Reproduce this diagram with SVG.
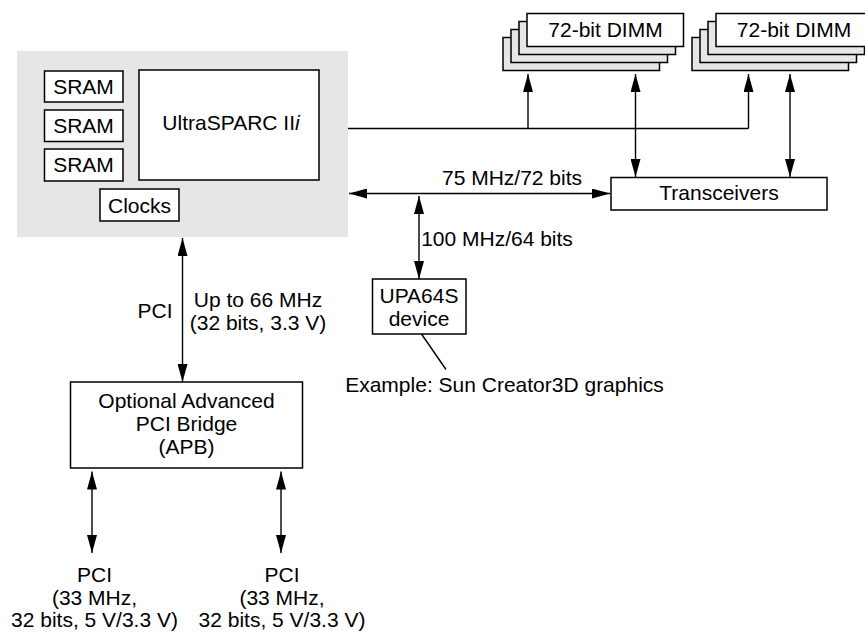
<svg xmlns="http://www.w3.org/2000/svg" width="865" height="634" viewBox="0 0 865 634">
<defs>
<marker id="ah" markerUnits="userSpaceOnUse" markerWidth="18" markerHeight="10" viewBox="0 0 18 10" refX="18" refY="5" orient="auto-start-reverse">
<path d="M0,0 L18,5 L0,10 z" fill="#000"/>
</marker>
<style>
text{font-family:"Liberation Sans",Arial,sans-serif;font-size:21px;fill:#000;text-anchor:middle}
.box{fill:#fff;stroke:#000;stroke-width:1.5}
.gbox{fill:#e6e6e6;stroke:#000;stroke-width:1.5}
.ln{fill:none;stroke:#000;stroke-width:1.4}
.arr{fill:none;stroke:#000;stroke-width:1.4;marker-end:url(#ah)}
.darr{fill:none;stroke:#000;stroke-width:1.4;marker-start:url(#ah);marker-end:url(#ah)}
</style>
</defs>
<rect width="865" height="634" fill="#fff"/>
<g id="cpu-module">
<rect x="17" y="51" width="331" height="186" fill="#e6e6e6"/>
</g>
<g id="sram1"><rect class="box" x="44.5" y="71" width="78.5" height="31"/><text x="83.5" y="94">SRAM</text></g>
<g id="sram2"><rect class="box" x="44.5" y="110" width="78.5" height="31.5"/><text x="83.5" y="133">SRAM</text></g>
<g id="sram3"><rect class="box" x="44.5" y="149" width="78.5" height="32"/><text x="83.5" y="172">SRAM</text></g>
<g id="ultrasparc"><rect class="box" x="139" y="70" width="180" height="110"/><text x="231" y="130">UltraSPARC II<tspan font-style="italic">i</tspan></text></g>
<g id="clocks"><rect class="box" x="100" y="189" width="79" height="32"/><text x="139.5" y="213">Clocks</text></g>
<g id="dimm1">
<rect class="gbox" x="503" y="37.5" width="156.5" height="33"/>
<rect class="gbox" x="511" y="29.5" width="156.5" height="33"/>
<rect class="gbox" x="519" y="21.5" width="156.5" height="33"/>
<rect class="box" x="527" y="13.5" width="156.5" height="33"/>
<text x="605.5" y="37">72-bit DIMM</text>
</g>
<g id="dimm2">
<rect class="gbox" x="692" y="37.5" width="156.5" height="33"/>
<rect class="gbox" x="700" y="29.5" width="156.5" height="33"/>
<rect class="gbox" x="708" y="21.5" width="156.5" height="33"/>
<rect class="box" x="716" y="13.5" width="156.5" height="33"/>
<text x="794" y="37">72-bit DIMM</text>
</g>
<g id="transceivers"><rect class="box" x="611" y="177.5" width="216" height="32.5"/><text x="719" y="200">Transceivers</text></g>
<g id="upa64s"><rect class="box" x="372.5" y="279" width="93.5" height="55"/><text x="419" y="303">UPA64S</text><text x="419" y="326">device</text></g>
<g id="apb"><rect class="box" x="70.5" y="382" width="232" height="86"/><text x="186.5" y="408">Optional Advanced</text><text x="186.5" y="431">PCI Bridge</text><text x="186.5" y="454">(APB)</text></g>
<g id="connectors">
<path class="ln" d="M348,128.5 H748.5"/>
<path class="arr" d="M528,128.5 V74"/>
<path class="arr" d="M748.5,128.5 V74"/>
<path class="darr" d="M635.5,74 V177"/>
<path class="darr" d="M790,74 V177"/>
<path class="darr" d="M349,193.5 H610"/>
<path class="darr" d="M419,196 V279"/>
<path class="darr" d="M182.5,238 V382"/>
<path class="darr" d="M92,471.5 V553"/>
<path class="darr" d="M281,471.5 V553"/>
<path class="ln" d="M421.5,334 L446,369.5"/>
</g>
<g id="labels">
<text x="512" y="185">75 MHz/72 bits</text>
<text x="497" y="246">100 MHz/64 bits</text>
<text x="155" y="318">PCI</text>
<text x="258" y="307">Up to 66 MHz</text>
<text x="258" y="330">(32 bits, 3.3 V)</text>
<text x="504.5" y="391.5">Example: Sun Creator3D graphics</text>
<text x="94.5" y="582">PCI</text>
<text x="94.5" y="604.5">(33 MHz,</text>
<text x="94.5" y="627">32 bits, 5 V/3.3 V)</text>
<text x="282" y="582">PCI</text>
<text x="282" y="604.5">(33 MHz,</text>
<text x="282" y="627">32 bits, 5 V/3.3 V)</text>
</g>
</svg>
